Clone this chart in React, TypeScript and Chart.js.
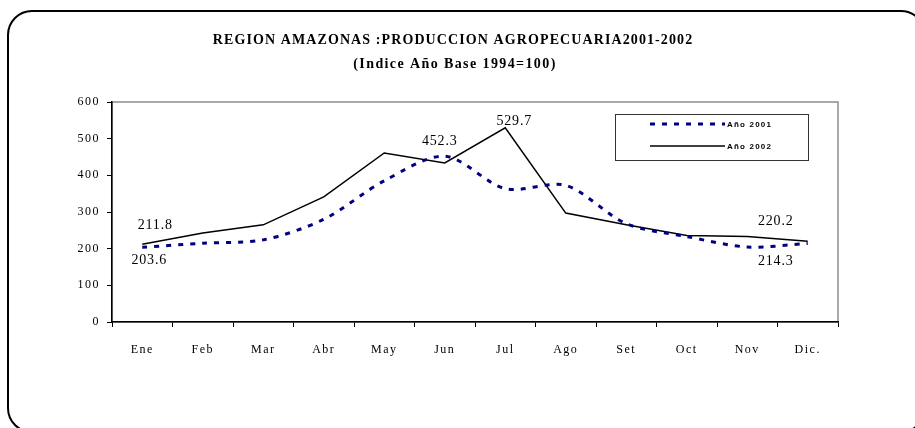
import React, { useEffect, useRef } from "react";
import { Chart, registerables } from "chart.js";

Chart.register(...registerables);

const months = ["Ene", "Feb", "Mar", "Abr", "May", "Jun", "Jul", "Ago", "Set", "Oct", "Nov", "Dic."];
const serie2001 = [203.6, 215, 224, 280, 385, 452.3, 363.5, 372.5, 268, 233, 204.5, 214.3];
const serie2002 = [211.8, 243, 265, 341, 461, 434, 529.7, 297, 265, 236, 233.5, 220.2];
const yTicks = [0, 100, 200, 300, 400, 500, 600];
const seriesNames = ["Año 2001", "Año 2002"];
const titleText = "REGION AMAZONAS :PRODUCCION AGROPECUARIA2001-2002";
const subtitleText = "(Indice Año Base 1994=100)";
// which points carry a value label (dataset index, point index)
const labelledPoints = [
  { ds: 1, i: 0 },
  { ds: 0, i: 0 },
  { ds: 0, i: 5 },
  { ds: 1, i: 6 },
  { ds: 1, i: 11 },
  { ds: 0, i: 11 },
];
// offsets of the value labels relative to their points (style)
const labelOffsets = [
  [13, -19],
  [7, 13],
  [-5, -15],
  [9, -6],
  [-32, -20],
  [-32, 18],
];

const SERIF = "'Liberation Serif', 'Times New Roman', serif";
const SANS = "'Liberation Sans', Arial, sans-serif";

const decorPlugin = {
  id: "decor",
  beforeDraw(chart: any) {
    const ctx = chart.ctx as CanvasRenderingContext2D;
    ctx.save();
    ctx.fillStyle = "#ffffff";
    ctx.fillRect(0, 0, chart.width, chart.height);
    ctx.beginPath();
    (ctx as any).roundRect(8, 11, 917, 421, 24);
    ctx.lineWidth = 2;
    ctx.strokeStyle = "#000";
    ctx.stroke();
    const a = chart.chartArea;
    ctx.strokeStyle = "#8c8c8c";
    ctx.lineWidth = 1.5;
    ctx.strokeRect(a.left, a.top, a.right - a.left, a.bottom - a.top);
    ctx.restore();
    (ctx as any).letterSpacing = "1.5px";
  },
  afterDraw(chart: any) {
    const ctx = chart.ctx as CanvasRenderingContext2D;
    ctx.save();
    // titles
    (ctx as any).letterSpacing = "1.1px";
    ctx.fillStyle = "#000";
    ctx.textAlign = "center";
    ctx.textBaseline = "middle";
    ctx.font = `bold 14px ${SERIF}`;
    ctx.fillText(titleText, 453, 40);
    (ctx as any).letterSpacing = "1.4px";
    ctx.fillText(subtitleText, 455, 64);

    // value labels
    (ctx as any).letterSpacing = "0.8px";
    ctx.font = `14px ${SERIF}`;
    labelledPoints.forEach((p, k) => {
      const meta = chart.getDatasetMeta(p.ds);
      const el = meta.data[p.i];
      const v = chart.data.datasets[p.ds].data[p.i] as number;
      const [dx, dy] = labelOffsets[k];
      ctx.fillText(v.toFixed(1), el.x + dx, el.y + dy);
    });

    // legend
    ctx.strokeStyle = "#333";
    ctx.lineWidth = 1;
    ctx.setLineDash([]);
    ctx.strokeRect(615.5, 114.5, 193, 46);
    const ds = chart.data.datasets;
    const rows = [124, 146];
    rows.forEach((y, r) => {
      ctx.beginPath();
      ctx.strokeStyle = ds[r].borderColor;
      ctx.lineWidth = ds[r].borderWidth;
      ctx.setLineDash(ds[r].borderDash || []);
      ctx.moveTo(650, y);
      ctx.lineTo(725, y);
      ctx.stroke();
    });
    ctx.setLineDash([]);
    (ctx as any).letterSpacing = "1.2px";
    ctx.font = `bold 8px ${SANS}`;
    ctx.fillStyle = "#000";
    ctx.textAlign = "left";
    ctx.fillText(ds[0].label, 727, 125);
    ctx.fillText(ds[1].label, 727, 147);
    ctx.restore();
  },
};

export default function App() {
  const ref = useRef<HTMLCanvasElement | null>(null);
  useEffect(() => {
    if (!ref.current) return;
    const chart = new Chart(ref.current, {
      type: "line",
      data: {
        labels: months,
        datasets: [
          {
            label: seriesNames[0],
            data: serie2001,
            borderColor: "#000080",
            borderWidth: 3,
            borderDash: [5, 7],
            tension: 0.3,
            pointRadius: 0,
            fill: false,
          },
          {
            label: seriesNames[1],
            data: serie2002,
            borderColor: "#000000",
            borderWidth: 1.5,
            tension: 0,
            pointRadius: 0,
            fill: false,
          },
        ],
      },
      options: {
        responsive: false,
        animation: false,
        layout: { padding: { top: 102, right: 77, left: 0, bottom: 0 } },
        plugins: {
          legend: { display: false },
          tooltip: { enabled: false },
          title: { display: false },
        },
        scales: {
          x: {
            type: "category",
            offset: true,
            grid: {
              display: true,
              drawOnChartArea: false,
              drawTicks: true,
              tickLength: 5,
              color: "#000",
              offset: true,
            },
            border: { display: true, color: "#000", width: 1.5 },
            ticks: {
              color: "#000",
              font: { family: SERIF, size: 12 },
              padding: 16,
              maxRotation: 0,
              autoSkip: false,
            },
            afterFit(s: any) {
              s.height = 106;
            },
          },
          y: {
            min: 0,
            max: 600,
            afterBuildTicks(s: any) {
              s.ticks = yTicks.map((v) => ({ value: v }));
            },
            grid: {
              display: true,
              drawOnChartArea: false,
              drawTicks: true,
              tickLength: 5,
              color: "#000",
            },
            border: { display: true, color: "#000", width: 1.5 },
            ticks: {
              color: "#000",
              font: { family: SERIF, size: 12 },
              padding: 7,
            },
            afterFit(s: any) {
              s.width = 112;
            },
          },
        },
      } as any,
      plugins: [decorPlugin],
    });
    return () => chart.destroy();
  }, []);
  return (
    <div style={{ position: "absolute", left: 0, top: 0, width: 915, height: 428 }}>
      <canvas ref={ref} width={915} height={428} style={{ display: "block" }} />
    </div>
  );
}
